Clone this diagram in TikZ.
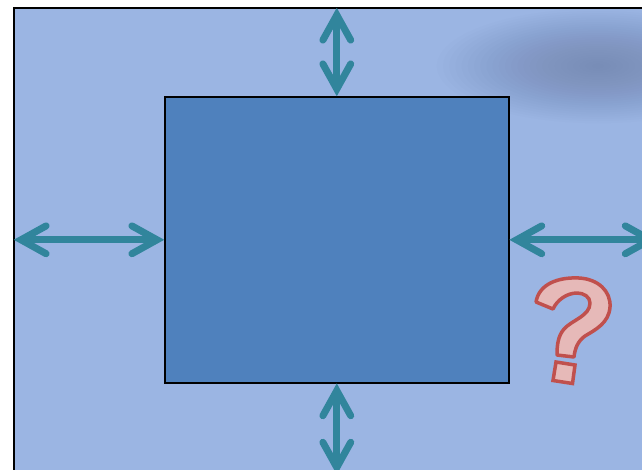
\documentclass[tikz,border=0pt]{standalone}
\usetikzlibrary{calc}
\definecolor{bgblue}{HTML}{9BB5E3}
\definecolor{boxblue}{HTML}{4F81BD}
\definecolor{teal}{HTML}{31859C}
\definecolor{shadowc}{HTML}{4A5A80}
\definecolor{qpink}{HTML}{E6B9B8}
\definecolor{qred}{HTML}{C0504D}
\tikzset{
  outerfill/.style={fill=bgblue, inner sep=0pt, anchor=north west},
  outerline/.style={draw=black, line width=2pt},
  innerbox/.style={draw=black, line width=1.6pt, fill=boxblue, inner sep=0pt, anchor=north west},
  shaft/.style={draw=teal, line width=7pt},
  barb/.style={draw=teal, line width=7pt, line cap=round, line join=miter},
  qmark/.style={draw=qred, fill=qpink, line width=3.5pt, line join=round},
  softshadow/.style={fill=shadowc, fill opacity=0.016},
}
\newcommand\twohead[2]{%
  \coordinate (ta) at ($(#1)!7pt!(#2)$);
  \coordinate (tb) at ($(#2)!7pt!(#1)$);
  \draw[shaft] (ta) -- (tb);
  \draw[barb] ($(ta)!28.7pt!29:(tb)$) -- (ta) -- ($(ta)!28.7pt!-29:(tb)$);
  \draw[barb] ($(tb)!28.7pt!29:(ta)$) -- (tb) -- ($(tb)!28.7pt!-29:(ta)$);
}
\begin{document}
\begin{tikzpicture}[x=1pt,y=-1pt]
\useasboundingbox (0,0) rectangle (642,469);
\fill[white] (0,0) rectangle (642,469);
\begin{scope}
\clip (0,0) rectangle (642,469);
\node[outerfill, minimum width=643pt, minimum height=466pt] (outer) at (14,8) {};
\begin{scope}
\clip (15,9) rectangle (642,469);
\foreach \i in {1,...,26}{
  \fill[softshadow] (598,66) ellipse [x radius={6.2*\i}, y radius={2.2*\i}];
}
\end{scope}
\draw[outerline] (outer.north west) rectangle (outer.south east);
\node[innerbox, minimum width=344pt, minimum height=286pt] (inner) at (164,96) {};
\coordinate (topend) at (outer.north -| inner.north);
\coordinate (leftend) at (outer.west |- inner.west);
\coordinate (rightend) at (outer.east |- inner.east);
\coordinate (botend) at (outer.south -| inner.south);
\twohead{topend}{inner.north}
\twohead{leftend}{inner.west}
\twohead{inner.east}{rightend}
\twohead{inner.south}{botend}
% question mark
\draw[qmark]
  (536,302) .. controls (539,284) and (558,277) .. (579,278)
  .. controls (598,279) and (611,291) .. (610,307)
  .. controls (609,323) and (595,330) .. (585,336)
  .. controls (578,341) and (575,348) .. (574,357)
  -- (557,355)
  .. controls (557,345) and (558,336) .. (564,329)
  .. controls (572,320) and (590,316) .. (590,303)
  .. controls (590,297) and (584,293) .. (577,293)
  .. controls (567,293) and (557,300) .. (553,309)
  -- cycle;
\draw[qmark, line join=miter]
  (556,362) -- (575,365) -- (572.5,383.5) -- (553,380.5) -- cycle;
\end{scope}
\end{tikzpicture}
\end{document}
